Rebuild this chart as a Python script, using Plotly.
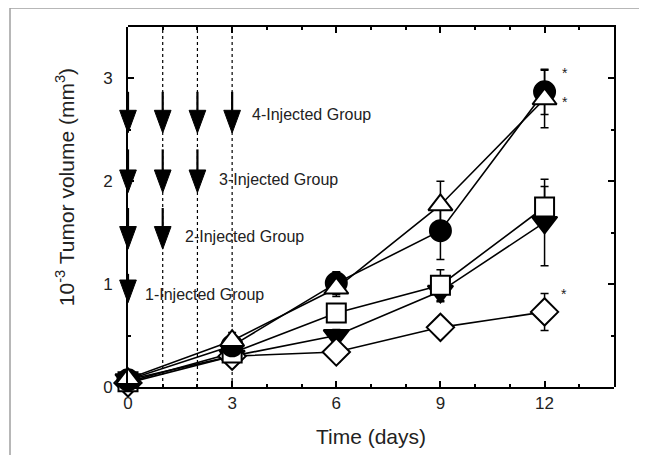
import plotly.graph_objects as go

days = [0, 3, 6, 9, 12]

circle_vals = [0.07, 0.40, 1.01, 1.52, 2.87]
circle_err = [0.03, 0.05, 0.11, 0.28, 0.22]
tri_up_vals = [0.08, 0.45, 0.96, 1.77, 2.80]
tri_up_err = [0.03, 0.08, 0.08, 0.23, 0.28]
square_vals = [0.05, 0.33, 0.72, 0.99, 1.75]
square_err = [0.03, 0.06, 0.08, 0.15, 0.20]
tri_down_vals = [0.07, 0.30, 0.50, 0.93, 1.60]
tri_down_err = [0.03, 0.05, 0.06, 0.10, 0.42]
diamond_vals = [0.04, 0.30, 0.34, 0.58, 0.73]
diamond_err = [0.03, 0.05, 0.10, 0.03, 0.18]

injection_days = [1, 2, 3]
arrow_days = [[0, 1, 2, 3], [0, 1, 2], [0, 1], [0]]
arrow_top = [2.87, 2.31, 1.74, 1.10]
arrow_tip = [2.47, 1.89, 1.34, 0.82]
group_labels = ["4-Injected Group", "3-Injected Group", "2-Injected Group", "1-Injected Group"]
label_x = [3.52, 2.57, 1.59, 0.43]
label_y = [2.65, 2.02, 1.46, 0.90]

star_x = [12.58, 12.58, 12.55]
star_y = [3.05, 2.77, 0.90]

X_MAX = 14
Y_MAX = 3.5
HEAD_H = 0.22   # arrow head height (y units)
HEAD_HW = 0.24  # arrow head half width (day units)

# layout geometry (figure pixels)
W, H = 647, 455
M_L, M_R, M_T, M_B = 100, 41, 19, 76
PLOT_LEFT = 120                      # where day 0 sits
area_w = W - M_L - M_R               # 506
main_w = area_w - (PLOT_LEFT - M_L)  # 486
dom0 = (PLOT_LEFT - M_L) / area_w
px_per_day = main_w / X_MAX
helper_min = -(PLOT_LEFT - M_L) / px_per_day

fig = go.Figure()

# dotted injection lines
for d in injection_days:
    fig.add_trace(go.Scatter(x=[d, d], y=[0, Y_MAX], mode="lines",
                             line=dict(color="black", width=1.2, dash="dot"),
                             showlegend=False, hoverinfo="skip"))

series = [
    (tri_down_vals, tri_down_err, "triangle-down", "black", 22),
    (diamond_vals, diamond_err, "diamond", "white", 21),
    (square_vals, square_err, "square", "white", 19),
    (circle_vals, circle_err, "circle", "black", 21),
    (tri_up_vals, tri_up_err, "triangle-up", "white", 21),
]

for vals, err, sym, fill, sz in series:
    fig.add_trace(go.Scatter(
        x=days, y=vals, mode="lines", cliponaxis=False,
        line=dict(color="black", width=1.6),
        showlegend=False, hoverinfo="skip"))
for vals, err, sym, fill, sz in series:
    fig.add_trace(go.Scatter(
        x=days, y=vals, mode="markers", cliponaxis=False,
        marker=dict(symbol=sym, size=sz, color=fill,
                    line=dict(color="black", width=2)),
        error_y=dict(type="data", array=err, visible=True, color="black",
                     thickness=1.5, width=4),
        showlegend=False, hoverinfo="skip"))

# arrows: stems and heads, on a helper axis pair that extends a bit left of day 0
for days_list, top, tip in zip(arrow_days, arrow_top, arrow_tip):
    for d in days_list:
        fig.add_trace(go.Scatter(x=[d, d], y=[top, tip + HEAD_H], mode="lines",
                                 xaxis="x3", yaxis="y3",
                                 line=dict(color="black", width=2.2),
                                 showlegend=False, hoverinfo="skip"))
        fig.add_trace(go.Scatter(
            x=[d - HEAD_HW, d + HEAD_HW, d, d - HEAD_HW],
            y=[tip + HEAD_H, tip + HEAD_H, tip, tip + HEAD_H],
            xaxis="x3", yaxis="y3",
            mode="lines", fill="toself", fillcolor="black",
            line=dict(color="black", width=1),
            showlegend=False, hoverinfo="skip"))

for txt, lx, ly in zip(group_labels, label_x, label_y):
    fig.add_annotation(x=lx, y=ly, text=txt, showarrow=False, xanchor="left",
                       font=dict(family="Liberation Sans, Arial", size=16, color="#222"))

for sx, sy in zip(star_x, star_y):
    fig.add_annotation(x=sx, y=sy, text="*", showarrow=False,
                       font=dict(family="Liberation Sans, Arial", size=14, color="#222"))

# invisible trace to activate mirrored axes
fig.add_trace(go.Scatter(x=[0], y=[0], xaxis="x2", yaxis="y2", mode="markers",
                         marker=dict(opacity=0), showlegend=False, hoverinfo="skip"))

# outer gray frame
fig.add_shape(type="rect", xref="paper", yref="paper",
              x0=(2 - M_L) / area_w, y0=-0.4, x1=1.3, y1=1 + M_T / (H - M_T - M_B),
              line=dict(color="#a0a0a0", width=1.5))

fig.add_annotation(xref="paper", yref="paper", x=(57 - M_L) / area_w, y=0.555, textangle=-90,
                   xanchor="center", yanchor="middle",
                   text="10<sup>-3</sup> Tumor volume (mm<sup>3</sup>)", showarrow=False,
                   font=dict(family="Liberation Sans, Arial", size=21, color="#222"))

common_tick = dict(ticks="inside", ticklen=6, tickwidth=1.5, tickcolor="black",
                   showline=True, linecolor="black", linewidth=2,
                   showgrid=False, zeroline=False)
xminor = dict(dtick=1, ticks="inside", ticklen=3, tickcolor="black", tickwidth=1.5)
yminor = dict(dtick=0.5, ticks="inside", ticklen=3, tickcolor="black", tickwidth=1.5)

fig.update_layout(
    width=W, height=H,
    margin=dict(l=M_L, r=M_R, t=M_T, b=M_B),
    paper_bgcolor="white", plot_bgcolor="rgba(0,0,0,0)",
    font=dict(family="Liberation Sans, Arial", color="#222"),
    xaxis=dict(range=[0, X_MAX], domain=[dom0, 1], tickvals=[0, 3, 6, 9, 12],
               minor=xminor, tickfont=dict(size=17),
               title=dict(text="Time (days)", font=dict(size=21), standoff=17),
               **common_tick),
    yaxis=dict(range=[0, Y_MAX], domain=[0, 1], tickvals=[0, 1, 2, 3],
               minor=yminor, tickfont=dict(size=17), ticklabelstandoff=10,
               **common_tick),
    xaxis2=dict(range=[0, X_MAX], domain=[dom0, 1], tickvals=[0, 3, 6, 9, 12],
                side="top", anchor="y2", showticklabels=False, minor=xminor,
                **common_tick),
    yaxis2=dict(range=[0, Y_MAX], domain=[0, 1], tickvals=[0, 1, 2, 3], side="right",
                anchor="x2", showticklabels=False, minor=yminor,
                **common_tick),
    xaxis3=dict(range=[helper_min, X_MAX], domain=[0, 1], anchor="y3", visible=False),
    yaxis3=dict(range=[0, Y_MAX], domain=[0, 1], anchor="x3", visible=False),
)

fig.write_html("out.html")
